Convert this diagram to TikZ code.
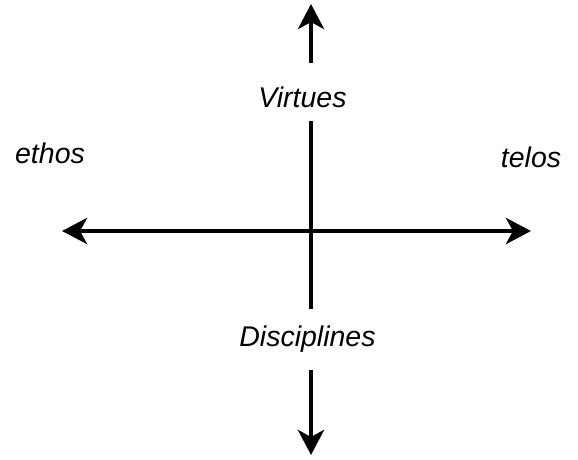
\documentclass[tikz,border=0pt]{standalone}
\usepackage{fontspec}
\setmainfont{Liberation Sans}
\usetikzlibrary{arrows.meta}
\begin{document}
\begin{tikzpicture}[x=1pt,y=-1pt,
  axis/.style={line width=4.5pt,-{Stealth[length=25pt,width=26pt,inset=7pt]}},
  seg/.style={line width=4.5pt},
  lbl/.style={font=\fontsize{28.5}{30}\selectfont\itshape,anchor=base,inner sep=0pt}]
\useasboundingbox (0,0) rectangle (578,459);
\coordinate (c) at (311,231);
\coordinate (l) at (62,231);
\coordinate (r) at (531,231);
\coordinate (t) at (311,4);
\coordinate (b) at (311,455);
\coordinate (v1) at (311,63);
\coordinate (v2) at (311,121);
\coordinate (d1) at (311,309);
\coordinate (d2) at (311,370);
\node[lbl] (virt) at (302.5,107) {Virtues};
\node[lbl] (disc) at (307.5,346) {Disciplines};
\node[lbl] (ethos) at (50,163) {ethos};
\node[lbl] (telos) at (531,167) {telos};
\draw[axis] (c) -- (l);
\draw[axis] (c) -- (r);
\draw[axis] (v1) -- (t);
\draw[seg] (v2) -- (d1);
\draw[axis] (d2) -- (b);
\end{tikzpicture}
\end{document}
